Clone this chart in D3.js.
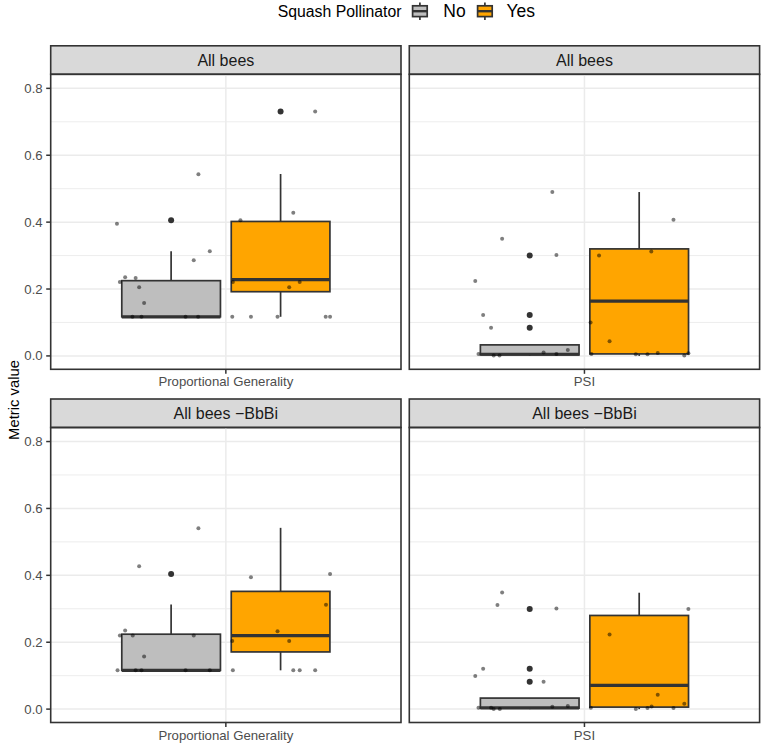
<!DOCTYPE html>
<html>
<head>
<meta charset="utf-8">
<script src="https://cdn.jsdelivr.net/npm/d3@7"></script>
<style>
  body { margin: 0; background: #fff; }
  svg text { font-family: "Liberation Sans", Arial, sans-serif; }
</style>
</head>
<body>
<div id="chart"></div>
<script>
// ---- data ----
var groups = ["No", "Yes"];
var stripLabels = ["All bees", "All bees", "All bees \u2212BbBi", "All bees \u2212BbBi"];
var metricLabels = ["Proportional Generality", "PSI", "Proportional Generality", "PSI"];
var yTicks = [0.0, 0.2, 0.4, 0.6, 0.8];
var yMinor = [0.1, 0.3, 0.5, 0.7];

// box stats per panel: [lower whisker, q1, median, q3, upper whisker]
var boxNo = [
  [0.117, 0.117, 0.117, 0.225, 0.313],
  [0.000, 0.003, 0.005, 0.033, 0.033],
  [0.116, 0.116, 0.116, 0.224, 0.313],
  [0.000, 0.003, 0.004, 0.033, 0.033]
];
var boxYes = [
  [0.117, 0.192, 0.228, 0.402, 0.544],
  [0.000, 0.006, 0.164, 0.320, 0.490],
  [0.116, 0.171, 0.220, 0.352, 0.542],
  [0.000, 0.006, 0.071, 0.280, 0.348]
];
var outliersNo = [[0.406], [0.300, 0.122, 0.084], [0.404], [0.299, 0.121, 0.082]];
var outliersYes = [[0.731], [], [], []];

// jittered points: [x offset within category, value]
var pointsAllPG = [
  [-0.373,0.395],[-0.345,0.235],[-0.309,0.233],[-0.363,0.221],[-0.297,0.205],[-0.280,0.158],
  [-0.320,0.117],[-0.289,0.117],[-0.138,0.117],[-0.095,0.117],[-0.094,0.543],[-0.110,0.286],[-0.055,0.313],
  [0.022,0.117],[0.086,0.117],[0.177,0.117],[0.342,0.117],[0.357,0.117],[0.050,0.406],
  [0.231,0.428],[0.306,0.731],[0.024,0.221],[0.217,0.205],[0.253,0.221]
];
var pointsAllPSI = [
  [-0.374,0.224],[-0.347,0.122],[-0.320,0.084],[-0.282,0.350],[-0.110,0.490],[-0.096,0.302],
  [-0.363,0.006],[-0.311,0.001],[-0.291,0.001],[-0.140,0.010],[-0.096,0.006],[-0.057,0.018],
  [0.050,0.300],[0.229,0.312],[0.305,0.407],[0.021,0.100],[0.086,0.044],[0.024,0.006],
  [0.176,0.005],[0.216,0.005],[0.251,0.009],[0.342,0.001],[0.356,0.008]
];
var pointsNoBbBiPG = [
  [-0.371,0.116],[-0.363,0.220],[-0.345,0.235],[-0.319,0.220],[-0.297,0.427],[-0.280,0.157],
  [-0.309,0.116],[-0.289,0.116],[-0.138,0.116],[-0.055,0.116],[-0.110,0.220],[-0.094,0.541],
  [0.024,0.116],[0.086,0.394],[0.177,0.233],[0.217,0.204],[0.231,0.116],[0.253,0.116],
  [0.306,0.116],[0.343,0.312],[0.357,0.404],[0.022,0.204]
];
var pointsNoBbBiPSI = [
  [-0.282,0.349],[-0.298,0.311],[-0.096,0.301],[-0.347,0.121],[-0.374,0.099],[-0.140,0.082],
  [-0.363,0.004],[-0.320,0.004],[-0.311,0.000],[-0.290,0.000],[-0.110,0.007],[-0.057,0.009],
  [0.356,0.299],[0.086,0.223],[0.251,0.043],[0.342,0.016],[0.022,0.004],[0.176,0.000],
  [0.216,0.003],[0.230,0.008],[0.305,0.003]
];
var panelPoints = [pointsAllPG, pointsAllPSI, pointsNoBbBiPG, pointsNoBbBiPSI];

// ---- layout ----
var width = 766, height = 746;
var fills = {No: "#bebebe", Yes: "#ffa500"};
var dark = "#333333";
var panelW = 350.3, panelH = 295, stripH = 28.5;
var colX = [50.7, 409.3];
var rowTop = [45.8, 399];
var lw = 1.7;

var svg = d3.select("#chart").append("svg")
  .attr("width", width)
  .attr("height", height);

var x = d3.scaleLinear().domain([-0.6, 0.6]).range([0, panelW]);
var y = d3.scaleLinear().domain([-0.040, 0.842]).range([panelH, 0]);
var dodge = d3.scaleOrdinal().domain(groups).range([-0.1875, 0.1875]);
var halfBox = 0.169;

stripLabels.forEach(function(label, i) {
  var px = colX[i % 2], py = rowTop[Math.floor(i / 2)];
  var g = svg.append("g").attr("transform", "translate(" + px + "," + py + ")");

  // strip
  g.append("rect")
    .attr("x", 0).attr("y", 0)
    .attr("width", panelW).attr("height", stripH)
    .attr("fill", "#d9d9d9").attr("stroke", dark).attr("stroke-width", 1.6);
  g.append("text")
    .text(label)
    .attr("x", panelW / 2).attr("y", stripH / 2 + 5.5)
    .attr("text-anchor", "middle")
    .attr("font-size", 16)
    .attr("fill", "#1a1a1a");

  var p = g.append("g").attr("transform", "translate(0," + stripH + ")");

  // grid
  p.selectAll(".minor").data(yMinor).enter().append("line")
    .attr("x1", 0).attr("x2", panelW)
    .attr("y1", function(d) { return y(d); }).attr("y2", function(d) { return y(d); })
    .attr("stroke", "#ebebeb").attr("stroke-width", 0.9);
  p.selectAll(".major").data(yTicks).enter().append("line")
    .attr("x1", 0).attr("x2", panelW)
    .attr("y1", function(d) { return y(d); }).attr("y2", function(d) { return y(d); })
    .attr("stroke", "#ebebeb").attr("stroke-width", 1.5);
  p.append("line")
    .attr("x1", x(0)).attr("x2", x(0)).attr("y1", 0).attr("y2", panelH)
    .attr("stroke", "#ebebeb").attr("stroke-width", 1.5);

  // boxes
  var stats = [boxNo[i], boxYes[i]];
  groups.forEach(function(grp, k) {
    var s = stats[k], cx = x(dodge(grp));
    var bx = x(dodge(grp) - halfBox), bw = x(dodge(grp) + halfBox) - bx;
    p.append("line")
      .attr("x1", cx).attr("x2", cx).attr("y1", y(s[3])).attr("y2", y(s[4]))
      .attr("stroke", dark).attr("stroke-width", lw);
    p.append("line")
      .attr("x1", cx).attr("x2", cx).attr("y1", y(s[1])).attr("y2", y(s[0]))
      .attr("stroke", dark).attr("stroke-width", lw);
    p.append("rect")
      .attr("x", bx).attr("y", y(s[3]))
      .attr("width", bw).attr("height", y(s[1]) - y(s[3]))
      .attr("fill", fills[grp]).attr("stroke", dark).attr("stroke-width", lw);
    p.append("line")
      .attr("x1", bx).attr("x2", bx + bw).attr("y1", y(s[2])).attr("y2", y(s[2]))
      .attr("stroke", dark).attr("stroke-width", 3.2);
  });

  // outliers
  var outs = [outliersNo[i], outliersYes[i]];
  groups.forEach(function(grp, k) {
    p.selectAll(".out" + k).data(outs[k]).enter().append("circle")
      .attr("cx", x(dodge(grp)))
      .attr("cy", function(d) { return y(d); })
      .attr("r", 3.0)
      .attr("fill", dark);
  });

  // jitter
  p.selectAll(".pt").data(panelPoints[i]).enter().append("circle")
    .attr("cx", function(d) { return x(d[0]); })
    .attr("cy", function(d) { return y(d[1]); })
    .attr("r", 2.0)
    .attr("fill", "#000")
    .attr("fill-opacity", 0.5);

  // panel border
  p.append("rect")
    .attr("x", 0).attr("y", 0).attr("width", panelW).attr("height", panelH)
    .attr("fill", "none").attr("stroke", dark).attr("stroke-width", 1.6);

  // x tick + label
  p.append("line")
    .attr("x1", x(0)).attr("x2", x(0)).attr("y1", panelH).attr("y2", panelH + 4.5)
    .attr("stroke", dark).attr("stroke-width", 1.5);
  p.append("text")
    .text(metricLabels[i])
    .attr("x", x(0)).attr("y", panelH + 17)
    .attr("text-anchor", "middle")
    .attr("font-size", 13.2)
    .attr("fill", "#4d4d4d");

  // y axis only on left column
  if (i % 2 === 0) {
    p.selectAll(".yt").data(yTicks).enter().append("line")
      .attr("x1", -4.5).attr("x2", 0)
      .attr("y1", function(d) { return y(d); }).attr("y2", function(d) { return y(d); })
      .attr("stroke", dark).attr("stroke-width", 1.5);
    p.selectAll(".yl").data(yTicks).enter().append("text")
      .text(function(d) { return d3.format(".1f")(d); })
      .attr("x", -8).attr("y", function(d) { return y(d) + 4.5; })
      .attr("text-anchor", "end")
      .attr("font-size", 13.2)
      .attr("fill", "#4d4d4d");
  }
});

// y axis title
svg.append("text")
  .text("Metric value")
  .attr("transform", "translate(19,400) rotate(-90)")
  .attr("text-anchor", "middle")
  .attr("font-size", 14.8)
  .attr("fill", "#000");

// legend
var legend = svg.append("g");
legend.append("text")
  .text("Squash Pollinator")
  .attr("x", 277.7).attr("y", 16.5)
  .attr("font-size", 15.8)
  .attr("fill", "#000");
var keyX = {No: 412.6, Yes: 477.6};
var labX = {No: 443.3, Yes: 506.4};
groups.forEach(function(grp) {
  var kx = keyX[grp], kc = kx + 7.3;
  legend.append("line")
    .attr("x1", kc).attr("x2", kc).attr("y1", 2.5).attr("y2", 20)
    .attr("stroke", dark).attr("stroke-width", lw);
  legend.append("rect")
    .attr("x", kx).attr("y", 5.8).attr("width", 14.6).attr("height", 10.8)
    .attr("fill", fills[grp]).attr("stroke", dark).attr("stroke-width", lw);
  legend.append("line")
    .attr("x1", kx).attr("x2", kx + 14.6).attr("y1", 11.2).attr("y2", 11.2)
    .attr("stroke", dark).attr("stroke-width", 2.4);
  legend.append("text")
    .text(grp)
    .attr("x", labX[grp]).attr("y", 17)
    .attr("font-size", 17.5)
    .attr("fill", "#000");
});
</script>
</body>
</html>
